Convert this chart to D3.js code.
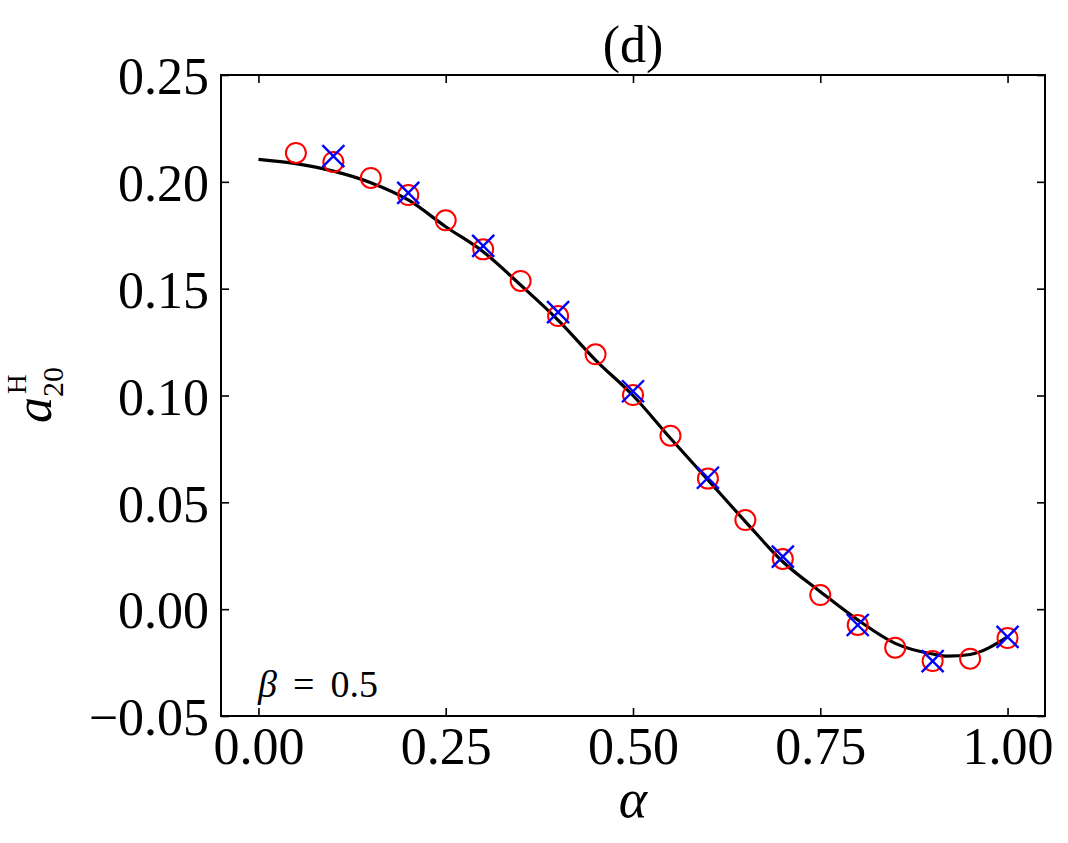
<!DOCTYPE html>
<html>
<head>
<meta charset="utf-8">
<script src="https://cdn.jsdelivr.net/npm/d3@7"></script>
<style>
  html, body { margin: 0; padding: 0; background: #fff; }
  svg text { font-family: "Liberation Serif", "DejaVu Serif", serif; fill: #000; }
</style>
</head>
<body>
<svg id="chart" width="1068" height="843"></svg>
<script>
// theory curve (alpha, a20^H)
const curveAlpha = [0, 0.05, 0.10, 0.15, 0.20, 0.25, 0.30, 0.35, 0.40, 0.45, 0.50,
	0.55, 0.60, 0.65, 0.70, 0.75, 0.80, 0.85, 0.90, 0.92, 0.95, 1.00];
const curveValue = [0.2105, 0.2085, 0.2050, 0.1996, 0.1915, 0.1790, 0.1673, 0.1517, 0.1353, 0.1166, 0.1000,
	0.0800, 0.0605, 0.0410, 0.0222, 0.0082, -0.0050, -0.0160, -0.0210, -0.0220, -0.0212, -0.0130];

// red circles
const circleAlpha = [0.05, 0.10, 0.15, 0.20, 0.25, 0.30, 0.35, 0.40, 0.45, 0.50,
	0.55, 0.60, 0.65, 0.70, 0.75, 0.80, 0.85, 0.90, 0.95, 1.00];
const circleValue = [0.2135, 0.2093, 0.2018, 0.1938, 0.1820, 0.1684, 0.1536, 0.1372, 0.1193, 0.1002,
	0.0812, 0.0611, 0.0417, 0.0235, 0.0066, -0.0074, -0.0180, -0.0243, -0.0232, -0.0135];

// blue crosses
const crossAlpha = [0.1, 0.2, 0.3, 0.4, 0.5, 0.6, 0.7, 0.8, 0.9, 1.0];
const crossValue = [0.2120, 0.1948, 0.1700, 0.1390, 0.1020, 0.0615, 0.0246, -0.0074, -0.0243, -0.0130];

const xTicks = [0, 0.25, 0.5, 0.75, 1.0];
const yTicks = [-0.05, 0, 0.05, 0.10, 0.15, 0.20, 0.25];

const svg = d3.select('#chart');
const plotLeft = 221, plotRight = 1045, plotTop = 75, plotBottom = 716;

const x = d3.scaleLinear().domain([-0.05, 1.05]).range([plotLeft, plotRight]);
const y = d3.scaleLinear().domain([-0.05, 0.25]).range([plotBottom, plotTop]);

const fmt = d3.format('.2f');
const minus = (v) => fmt(v).replace('-', '\u2212');

// axes with inward ticks
svg.append('g')
	.attr('transform', 'translate(0,' + plotBottom + ')')
	.call(d3.axisBottom(x).tickValues(xTicks).tickSizeInner(-8).tickSizeOuter(0).tickPadding(11).tickFormat(minus))
	.call(g => g.select('.domain').remove())
	.call(g => g.selectAll('text').attr('font-size', 52).attr('dy', '0.71em'));

svg.append('g')
	.attr('transform', 'translate(0,' + plotTop + ')')
	.call(d3.axisTop(x).tickValues(xTicks).tickSizeInner(-8).tickSizeOuter(0).tickFormat(''))
	.call(g => g.select('.domain').remove());

svg.append('g')
	.attr('transform', 'translate(' + plotLeft + ',0)')
	.call(d3.axisLeft(y).tickValues(yTicks).tickSizeInner(-8).tickSizeOuter(0).tickPadding(12).tickFormat(minus))
	.call(g => g.select('.domain').remove())
	.call(g => g.selectAll('text').attr('font-size', 52).attr('dy', '0.36em'));

svg.append('g')
	.attr('transform', 'translate(' + plotRight + ',0)')
	.call(d3.axisRight(y).tickValues(yTicks).tickSizeInner(-8).tickSizeOuter(0).tickFormat(''))
	.call(g => g.select('.domain').remove());

svg.selectAll('.tick line').attr('stroke', '#000').attr('stroke-width', 1.6);

// frame
svg.append('rect')
	.attr('x', plotLeft).attr('y', plotTop)
	.attr('width', plotRight - plotLeft).attr('height', plotBottom - plotTop)
	.attr('fill', 'none').attr('stroke', '#000').attr('stroke-width', 2);

// theory line
const line = d3.line()
	.x((d, i) => x(curveAlpha[i]))
	.y((d) => y(d))
	.curve(d3.curveMonotoneX);

svg.append('path')
	.datum(curveValue)
	.attr('d', line)
	.attr('fill', 'none')
	.attr('stroke', '#000')
	.attr('stroke-width', 3.2);

// circles
svg.append('g').selectAll('circle')
	.data(circleValue)
	.enter().append('circle')
	.attr('cx', (d, i) => x(circleAlpha[i]))
	.attr('cy', (d) => y(d))
	.attr('r', 10)
	.attr('fill', 'none')
	.attr('stroke', '#ff0000')
	.attr('stroke-width', 2);

// crosses
svg.append('g').selectAll('path')
	.data(crossValue)
	.enter().append('path')
	.attr('transform', (d, i) => 'translate(' + x(crossAlpha[i]) + ',' + y(d) + ')')
	.attr('d', 'M-11,-11L11,11M-11,11L11,-11')
	.attr('fill', 'none')
	.attr('stroke', '#0000ff')
	.attr('stroke-width', 2.4);

// title
svg.append('text')
	.attr('x', (plotLeft + plotRight) / 2).attr('y', 62)
	.attr('text-anchor', 'middle')
	.attr('font-size', 52)
	.text('(d)');

// x label
svg.append('text')
	.attr('x', x(0.5)).attr('y', 817)
	.attr('text-anchor', 'middle')
	.attr('font-size', 54)
	.attr('font-style', 'italic')
	.text('\u03b1');

// y label: a_20^H
const yl = svg.append('g').attr('transform', 'translate(51,423) rotate(-90)');
yl.append('text').attr('x', 0).attr('y', 0)
	.attr('font-size', 52).attr('font-style', 'italic').text('a');
yl.append('text').attr('x', 26).attr('y', 12)
	.attr('font-size', 30).text('20');
yl.append('text').attr('x', 29).attr('y', -25)
	.attr('font-size', 27).text('H');

// beta annotation
svg.append('text')
	.attr('x', 258).attr('y', 697)
	.attr('font-size', 38)
	.call(t => {
		t.append('tspan').attr('font-style', 'italic').text('\u03b2');
		t.append('tspan').attr('dx', 16).text('=');
		t.append('tspan').attr('dx', 16).text('0.5');
	});
</script>
</body>
</html>
